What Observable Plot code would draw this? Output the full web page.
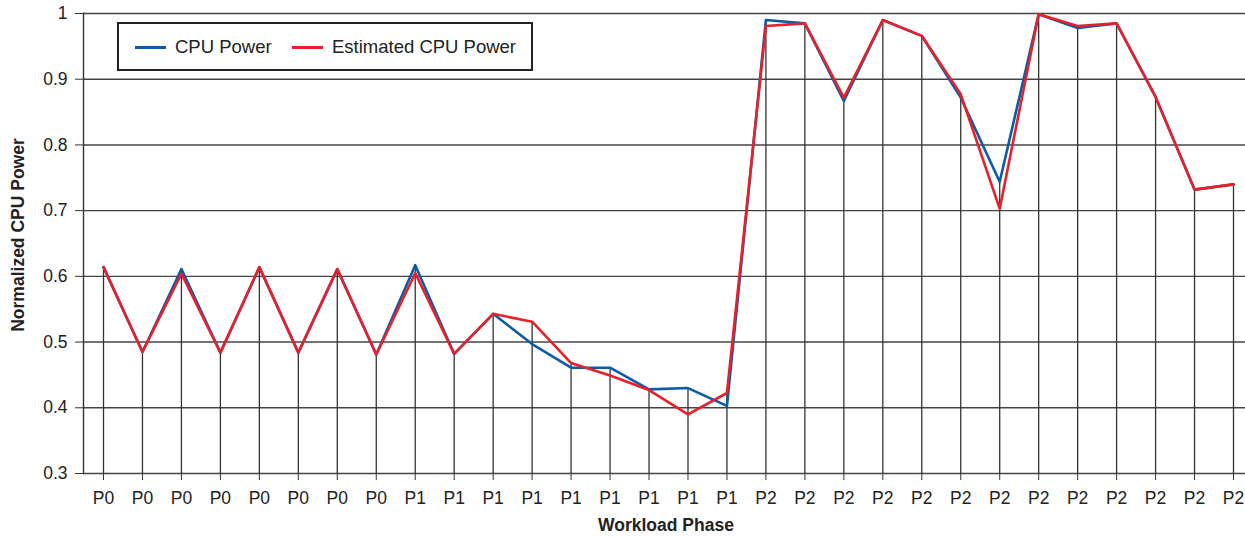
<!DOCTYPE html>
<html>
<head>
<meta charset="utf-8">
<script src="https://cdn.jsdelivr.net/npm/d3@7"></script>
<script src="https://cdn.jsdelivr.net/npm/@observablehq/plot@0.6"></script>
<style>
  body { margin: 0; background: #fff; }
  #wrap { position: relative; width: 1245px; height: 538px; font-family: "Liberation Sans", Arial, sans-serif; color: #222; }
  #legend { position: absolute; left: 117px; top: 22px; width: 416px; height: 49px; box-sizing: border-box; border: 2px solid #222; background: #fff; }
  .sw { position: absolute; top: 22px; width: 31px; height: 3px; }
  .lt { position: absolute; top: 12px; font-size: 18.5px; line-height: 22px; white-space: nowrap; }
  .axlab { position: absolute; font-weight: bold; font-size: 17.5px; white-space: nowrap; }
</style>
</head>
<body>
<div id="wrap">
  <div id="chart"></div>
  <div id="legend"></div>
  <div class="axlab" id="xlab"></div>
  <div class="axlab" id="ylab"></div>
</div>
<script>
const phases = ["P0","P0","P0","P0","P0","P0","P0","P0",
  "P1","P1","P1","P1","P1","P1","P1","P1","P1",
  "P2","P2","P2","P2","P2","P2","P2","P2","P2","P2","P2","P2","P2"];
const cpuPower = [0.614,0.485,0.611,0.484,0.614,0.484,0.611,0.481,
  0.617,0.482,0.543,0.497,0.461,0.461,0.428,0.430,0.403,
  0.990,0.985,0.867,0.990,0.966,0.872,0.744,0.999,0.978,0.985,0.873,0.732,0.740];
const estimatedPower = [0.614,0.485,0.604,0.484,0.614,0.484,0.611,0.481,
  0.605,0.482,0.543,0.531,0.468,0.449,0.427,0.390,0.4225,
  0.981,0.985,0.872,0.990,0.966,0.877,0.703,0.999,0.981,0.985,0.873,0.732,0.740];
const yTicks = [0.3,0.4,0.5,0.6,0.7,0.8,0.9,1];
const seriesNames = ["CPU Power","Estimated CPU Power"];
const seriesColors = ["#0b5ca8","#e8202a"];
const xTitle = "Workload Phase";
const yTitle = "Normalized CPU Power";

const data = phases.map((p, i) => ({i, phase: p, cpu: cpuPower[i], est: estimatedPower[i], top: Math.max(cpuPower[i], estimatedPower[i])}));

const chart = Plot.plot({
  width: 1245,
  height: 538,
  marginLeft: 83,
  marginRight: 0,
  marginTop: 13,
  marginBottom: 65,
  style: {fontFamily: "Liberation Sans, Arial, sans-serif", fontSize: "17.5px", color: "#222", background: "#fff"},
  x: {type: "point", domain: data.map(d => d.i), range: [103, 1233], padding: 0, round: false},
  y: {domain: [0.3, 1]},
  marks: [
    Plot.ruleY(yTicks, {stroke: "#444", strokeWidth: 1.4}),
    Plot.ruleX(data, {x: "i", y1: 0.3, y2: "top", stroke: "#333", strokeWidth: 1.3}),
    Plot.frame({anchor: "left", stroke: "#333", strokeWidth: 1.4}),
    Plot.line(data, {x: "i", y: "cpu", stroke: seriesColors[0], strokeWidth: 2.6}),
    Plot.line(data, {x: "i", y: "est", stroke: seriesColors[1], strokeWidth: 2.6}),
    Plot.axisX({ticks: data.map(d => d.i), tickFormat: i => phases[i], tickSize: 7, tickPadding: 11, label: null, stroke: "#333"}),
    Plot.axisY({ticks: yTicks, tickFormat: d => d === 1 ? "1" : d.toFixed(1), tickSize: 8, tickPadding: 8, label: null, stroke: "#333"})
  ]
});
document.getElementById("chart").append(chart);

const legend = document.getElementById("legend");
const swX = [16, 173];
const txX = [56, 213];
seriesNames.forEach((name, k) => {
  const sw = document.createElement("div");
  sw.className = "sw";
  sw.style.left = swX[k] + "px";
  sw.style.background = seriesColors[k];
  legend.append(sw);
  const t = document.createElement("div");
  t.className = "lt";
  t.style.left = txX[k] + "px";
  t.textContent = name;
  legend.append(t);
});

const xl = document.getElementById("xlab");
xl.textContent = xTitle;
xl.style.left = "666px";
xl.style.top = "515px";
xl.style.transform = "translateX(-50%)";

const yl = document.getElementById("ylab");
yl.textContent = yTitle;
yl.style.left = "18px";
yl.style.top = "235px";
yl.style.transform = "translate(-50%,-50%) rotate(-90deg)";
</script>
</body>
</html>
